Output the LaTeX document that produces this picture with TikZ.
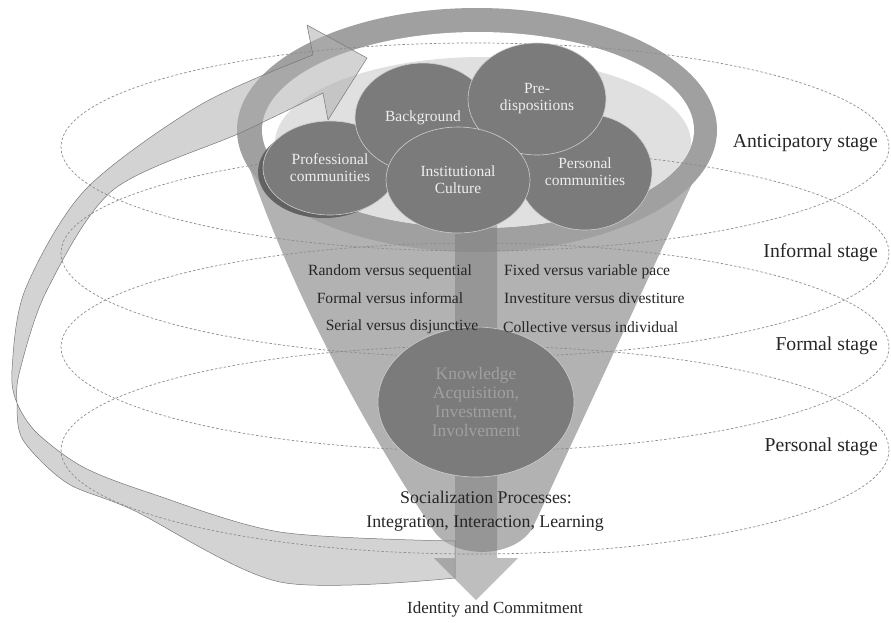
\documentclass[tikz,border=0pt]{standalone}
\usepackage{fontspec}
\setmainfont{Liberation Serif}
\usetikzlibrary{shapes.geometric}
\definecolor{funnelgray}{RGB}{178,178,178}
\definecolor{ringgray}{RGB}{160,160,160}
\definecolor{innergray}{RGB}{224,224,224}
\definecolor{bubblefill}{RGB}{123,123,123}
\definecolor{bubbleshade}{RGB}{98,98,98}
\definecolor{bubbleline}{RGB}{205,205,205}
\definecolor{bubbletext}{RGB}{238,238,238}
\definecolor{knowtext}{RGB}{160,160,160}
\definecolor{ribbongray}{RGB}{175,175,175}
\definecolor{ribbonline}{RGB}{120,120,120}
\definecolor{arrowgray}{RGB}{120,120,120}
\definecolor{dashgray}{RGB}{140,140,140}
\begin{document}
\begin{tikzpicture}[x=1pt,y=-1pt,
  bubble/.style={ellipse, draw=bubbleline, line width=0.6pt, fill=bubblefill, text=bubbletext,
    align=center, inner sep=0pt, font=\fontsize{15.5}{17}\selectfont},
  stage/.style={anchor=east, inner sep=0pt, text=black!85, font=\fontsize{19.7}{22}\selectfont},
  pair/.style={inner sep=0pt, text=black!85, font=\fontsize{15.6}{18}\selectfont},
  level/.style={draw=dashgray, line width=0.7pt, dash pattern=on 2.5pt off 2pt}]
\useasboundingbox (0,0) rectangle (891,622);
% Funnel body and rim
\fill[funnelgray] (237,130) .. controls (290,300) and (380,450) .. (432,528)
   .. controls (450,560) and (515,560) .. (533,527) -- (717,130) -- cycle;
\fill[ringgray] (477,130) ellipse [x radius=240, y radius=122];
\fill[white] (478,130) ellipse [x radius=216, y radius=98];
\begin{scope}
  \clip (478,130) ellipse [x radius=216, y radius=98];
  \fill[innergray] (483,143) ellipse [x radius=208, y radius=86];
\end{scope}
% Spiral ribbon ending in the arrow head
\filldraw[fill=ribbongray, fill opacity=0.55, draw=ribbonline, line width=0.5pt, line join=round]
   plot[smooth] coordinates {(313,55) (200,105) (85,190) (25,290) (12,370) (17,403)
     (37,433) (83,467) (150,493) (280,532) (455,541)}
   -- plot[smooth] coordinates {(455,578) (280,582) (133,510) (67,483) (23,440) (17,403)
     (20,370) (47,290) (113,190) (240,133) (323,93)}
   -- (328,120) -- (367,58) -- (307,25) -- cycle;
% Down arrow through the funnel
\coordinate (arrtop) at (476,215);
\coordinate (arrtip) at (476,600);
\fill[arrowgray, fill opacity=0.48] (455,215) -- (455,558) -- (434,558) -- (arrtip)
   -- (518,558) -- (497,558) -- (497,215) -- cycle;
% Stages
\foreach \cy in {147,253,347,450}
  \draw[level] (475,\cy) ellipse [x radius=414, y radius=104];
% Inputs at the top of the funnel
\fill[bubbleshade] (324,172) ellipse [x radius=66, y radius=46];
\node[bubble, minimum width=134pt, minimum height=94pt] (prof) at (330,168) {Professional\\communities};
\node[bubble, minimum width=134pt, minimum height=116pt] (persc) at (585,172) {Personal\\communities};
\node[bubble, minimum width=136pt, minimum height=110pt] (backg) at (423,118) {Background};
\node[bubble, minimum width=138pt, minimum height=112pt] (predisp) at (537,99) {Pre-\\dispositions};
\node[bubble, minimum width=144pt, minimum height=106pt] (instc) at (458,180) {Institutional\\Culture};
\node[bubble, minimum width=196pt, minimum height=150pt, text=knowtext,
   font=\fontsize{17.5}{19}\selectfont] (knowl) at (476,402) {Knowledge\\Acquisition,\\Investment,\\Involvement};
% Tactics
\node[pair] (randseq) at (390,272) {Random versus sequential};
\node[pair] (forminf) at (390,298) {Formal versus informal};
\node[pair] (serdis) at (402,327) {Serial versus disjunctive};
\node[pair, anchor=west] (fixvar) at (504,272) {Fixed versus variable pace};
\node[pair, anchor=west] (invdiv) at (504,298) {Investiture versus divestiture};
\node[pair, anchor=west] (colind) at (503,327) {Collective versus individual};
% Processes and outcome
\node[pair, font=\fontsize{17.8}{20}\selectfont] (socp) at (486,497) {Socialization Processes:};
\node[pair, font=\fontsize{17.8}{20}\selectfont] (intl) at (485,524) {Integration, Interaction, Learning};
\node[pair, font=\fontsize{17}{19}\selectfont] (ident) at (495,609) {Identity and Commitment};
% Stage labels
\node[stage] (antic) at (878,143) {Anticipatory stage};
\node[stage] (infst) at (878,253) {Informal stage};
\node[stage] (formst) at (878,346) {Formal stage};
\node[stage] (persst) at (878,447) {Personal stage};
\end{tikzpicture}
\end{document}
